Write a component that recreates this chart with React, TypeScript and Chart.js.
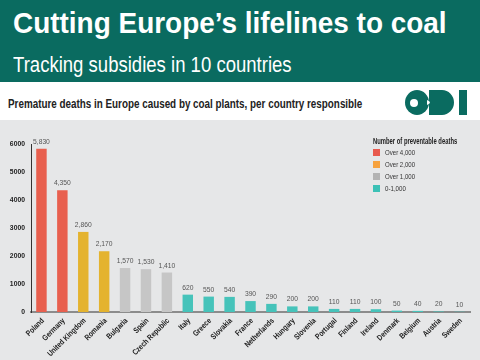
import React, { useEffect, useLayoutEffect, useRef } from "react";
import { Chart, registerables } from "chart.js";

Chart.register(...registerables);

const countries = [
  "Poland", "Germany", "United Kingdom", "Romania", "Bulgaria", "Spain",
  "Czech Republic", "Italy", "Greece", "Slovakia", "France", "Netherlands",
  "Hungary", "Slovenia", "Portugal", "Finland", "Ireland", "Denmark",
  "Belgium", "Austria", "Sweden",
];
const deaths = [
  5830, 4350, 2860, 2170, 1570, 1530, 1410, 620, 550, 540, 390, 290, 200,
  200, 110, 110, 100, 50, 40, 20, 10,
];
const groups = [
  "red", "red", "yellow", "yellow", "grey", "grey", "grey", "teal", "teal",
  "teal", "teal", "teal", "teal", "teal", "teal", "teal", "teal", "teal",
  "teal", "teal", "teal",
];
const yTicks = [0, 1000, 2000, 3000, 4000, 5000, 6000];
const legendLabels = ["Over 4,000", "Over 2,000", "Over 1,000", "0-1,000"];

const barColors: Record<string, string> = {
  red: "#e8604f",
  yellow: "#e4b32f",
  grey: "#c6c6c6",
  teal: "#46c3ba",
};
const legendColors = ["#e85a4e", "#f6a23e", "#b3b3b3", "#3cc1b6"];

const SANS = "'Liberation Sans', Arial, sans-serif";

function Fit(props: { text: string; left: number; top: number; width: number; style: React.CSSProperties }) {
  const ref = useRef<HTMLSpanElement>(null);
  useLayoutEffect(() => {
    const el = ref.current;
    if (!el) return;
    el.style.transform = "none";
    const w = el.offsetWidth;
    if (w > 0) el.style.transform = `scaleX(${props.width / w})`;
  }, []);
  return (
    <span
      ref={ref}
      style={{
        position: "absolute",
        left: props.left,
        top: props.top,
        whiteSpace: "nowrap",
        display: "inline-block",
        transformOrigin: "0 0",
        fontFamily: SANS,
        ...props.style,
      }}
    >
      {props.text}
    </span>
  );
}

function squeezedText(ctx: CanvasRenderingContext2D, text: string, x: number, y: number, angle: number, squeeze: number) {
  ctx.save();
  ctx.translate(x, y);
  if (angle) ctx.rotate(angle);
  ctx.scale(squeeze, 1);
  ctx.fillText(text, 0, 0);
  ctx.restore();
}

const textPlugin = {
  id: "textPlugin",
  afterDraw(chart: any) {
    const ctx = chart.ctx as CanvasRenderingContext2D;
    const xs = chart.scales.x;
    const ys = chart.scales.y;
    ctx.save();
    // value labels above bars
    const meta = chart.getDatasetMeta(0);
    ctx.font = `8px ${SANS}`;
    ctx.fillStyle = "#555";
    ctx.textAlign = "center";
    ctx.textBaseline = "alphabetic";
    meta.data.forEach((el: any, i: number) => {
      squeezedText(ctx, deaths[i].toLocaleString("en-US"), el.x, el.y - 5, 0, 0.84);
    });
    // y tick labels
    ctx.font = `bold 8px ${SANS}`;
    ctx.fillStyle = "#222";
    ctx.textAlign = "right";
    ctx.textBaseline = "middle";
    yTicks.forEach((v) => {
      squeezedText(ctx, String(v), xs.left - 6, ys.getPixelForValue(v), 0, 0.85);
    });
    // x tick labels, rotated
    ctx.textAlign = "right";
    ctx.textBaseline = "middle";
    chart.data.labels.forEach((lab: string, i: number) => {
      squeezedText(ctx, lab, xs.getPixelForTick(i) + 1.5, ys.bottom + 7.5, -Math.PI / 4, 0.82);
    });
    ctx.restore();
  },
};

export default function App() {
  const canvasRef = useRef<HTMLCanvasElement>(null);

  useEffect(() => {
    const canvas = canvasRef.current;
    if (!canvas) return;
    const chart = new Chart(canvas, {
      type: "bar",
      data: {
        labels: countries,
        datasets: [
          {
            data: deaths,
            backgroundColor: groups.map((g) => barColors[g]),
            borderWidth: 0,
            barPercentage: 0.5,
            categoryPercentage: 1,
          },
        ],
      },
      options: {
        responsive: false,
        animation: false,
        maintainAspectRatio: false,
        layout: { padding: { left: 0, right: 10, top: 24, bottom: 0 } },
        plugins: {
          legend: { display: false },
          tooltip: { enabled: false },
          title: { display: false },
        },
        scales: {
          x: {
            grid: { display: false, drawTicks: false },
            border: { display: true, color: "#8c8c8c", width: 2 },
            ticks: { display: false, autoSkip: false },
            afterFit(scale: any) {
              scale.height = 48;
            },
          },
          y: {
            min: 0,
            max: 6000,
            afterBuildTicks(scale: any) {
              scale.ticks = yTicks.map((v) => ({ value: v }));
            },
            grid: { display: false, drawTicks: false },
            border: { display: true, color: "#333", width: 1 },
            ticks: { display: false },
            afterFit(scale: any) {
              scale.width = 31;
            },
          },
        },
      },
      plugins: [textPlugin],
    });
    return () => chart.destroy();
  }, []);

  const teal = "#0a6b60";
  const legendTops = [149, 161, 172.5, 185];
  const legendWidths = [30, 30, 30, 20.5];

  return (
    <div
      style={{
        position: "fixed",
        left: 0,
        top: 0,
        width: 480,
        height: 360,
        background: "#fff",
        overflow: "hidden",
        fontFamily: SANS,
      }}
    >
      <div style={{ position: "absolute", left: 0, top: 0, width: 480, height: 82, background: teal }} />
      <Fit
        text="Cutting Europe’s lifelines to coal"
        left={13}
        top={8}
        width={434}
        style={{ color: "#fff", fontSize: 30, lineHeight: "30px", fontWeight: "bold" }}
      />
      <Fit
        text="Tracking subsidies in 10 countries"
        left={13}
        top={54}
        width={279}
        style={{ color: "#fff", fontSize: 22, lineHeight: "22px" }}
      />
      <Fit
        text="Premature deaths in Europe caused by coal plants, per country responsible"
        left={8}
        top={98}
        width={354}
        style={{ color: "#222", fontSize: 12.5, lineHeight: "13px", fontWeight: "bold" }}
      />
      <svg
        width={70}
        height={32}
        viewBox="0 0 70 32"
        style={{ position: "absolute", left: 402, top: 86 }}
      >
        <ellipse cx={15} cy={16.5} rx={12} ry={12.5} fill={teal} />
        <circle cx={12} cy={17} r={4} fill="#fff" />
        <path d="M27 4 H40 A12 12.5 0 0 1 40 29 H27 Z" fill={teal} />
        <path d="M25 14 Q31 16.5 25 19 Z" fill="#fff" />
        <rect x={57} y={4} width={8} height={25} fill={teal} />
      </svg>
      <div style={{ position: "absolute", left: 0, top: 120, width: 480, height: 240, background: "#e6e7e8" }}>
        <canvas ref={canvasRef} width={480} height={240} style={{ display: "block" }} />
      </div>
      <Fit
        text="Number of preventable deaths"
        left={373}
        top={136}
        width={84}
        style={{ color: "#222", fontSize: 8.5, lineHeight: "10px", fontWeight: "bold" }}
      />
      {legendLabels.map((lab, i) => (
        <React.Fragment key={lab}>
          <div
            style={{
              position: "absolute",
              left: 373,
              top: legendTops[i],
              width: 7,
              height: 7,
              background: legendColors[i],
            }}
          />
          <Fit
            text={lab}
            left={385}
            top={legendTops[i] - 1}
            width={legendWidths[i]}
            style={{ color: "#333", fontSize: 7.5, lineHeight: "9px" }}
          />
        </React.Fragment>
      ))}
    </div>
  );
}
